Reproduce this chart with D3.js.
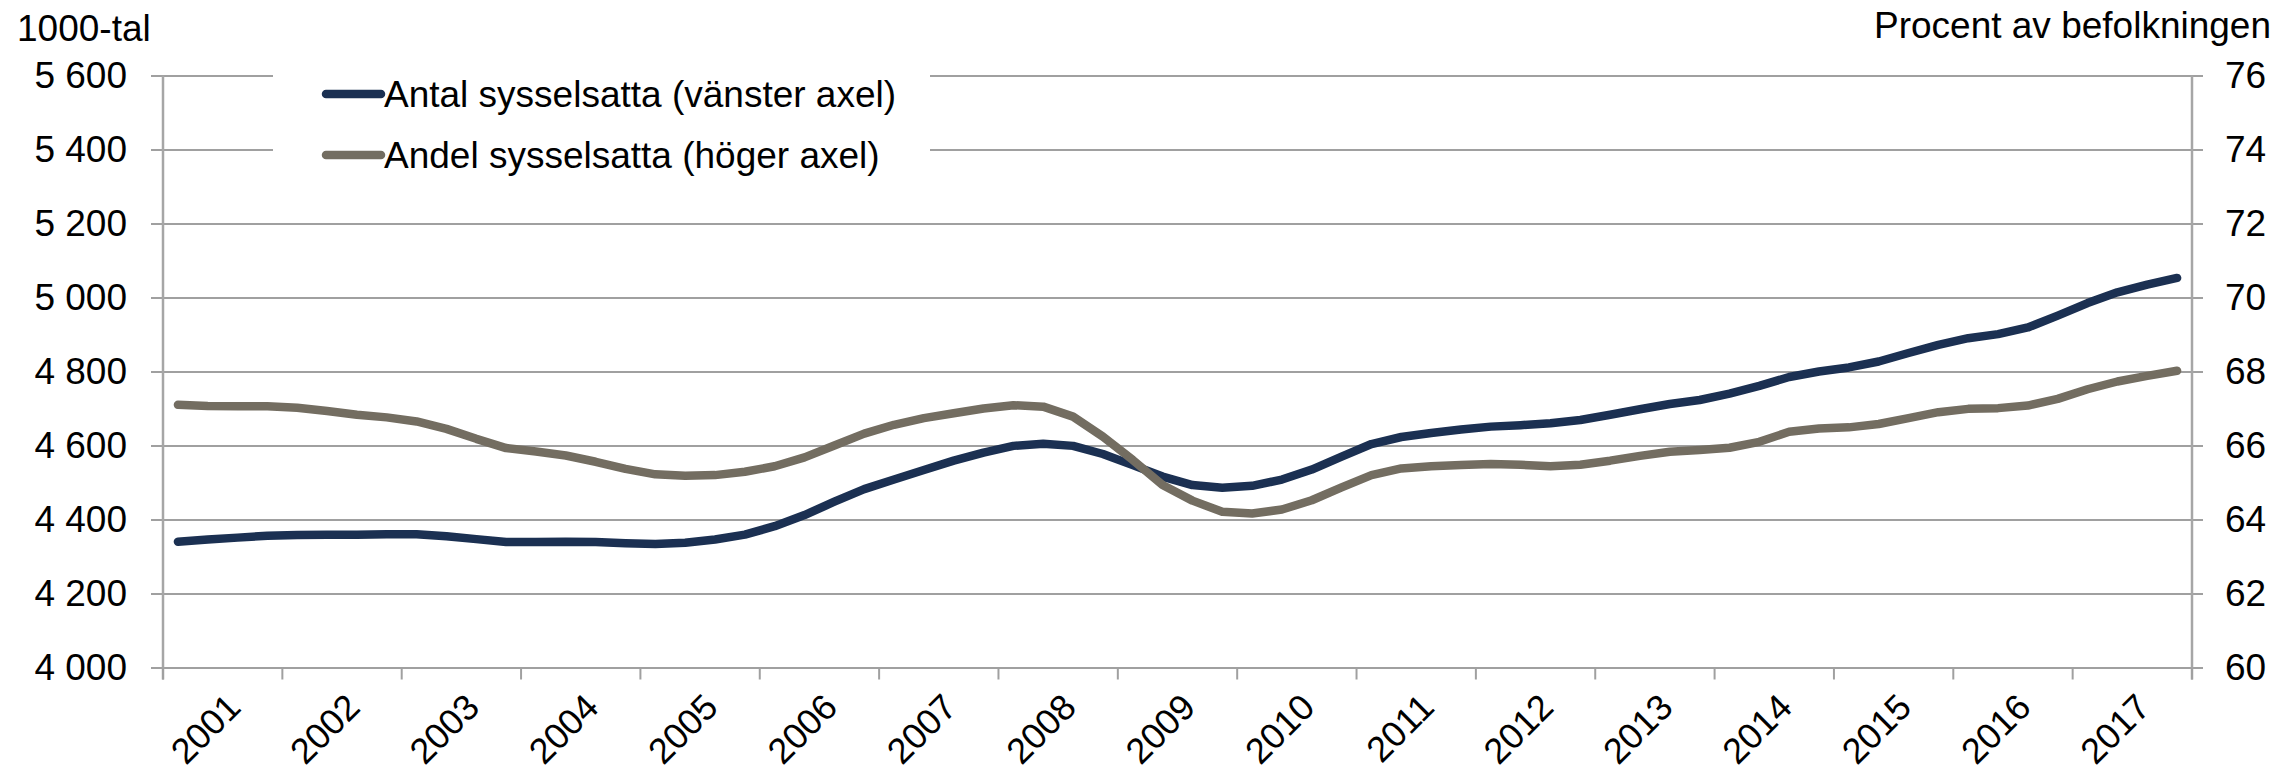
<!DOCTYPE html>
<html>
<head>
<meta charset="utf-8">
<script src="https://cdn.jsdelivr.net/npm/d3@7"></script>
<style>
    body { margin: 0; background: #fff; }
    svg { display: block; font-family: "Liberation Sans", Arial, sans-serif; }
</style>
</head>
<body>
<svg id="chart" width="2280" height="773"></svg>
<script>
// kvartal 2001K1 - 2017K4
var years = d3.range(2001, 2018);
var quarters = [];
years.forEach(function (y) {
    for (var q = 1; q <= 4; q++) quarters.push(y + "K" + q);
});

// Antal sysselsatta, 1000-tal (vänster axel)
var antal = [
    4340, 4346, 4351, 4356, 4358, 4359, 4359, 4360, 4360, 4355, 4347, 4339, 4339, 4340, 4339, 4336,
    4334, 4337, 4346, 4359, 4382, 4412, 4448, 4482, 4508, 4534, 4559, 4581, 4599, 4605, 4599, 4577,
    4547, 4516, 4493, 4486, 4491, 4508, 4535, 4570, 4604, 4623, 4634, 4643, 4651, 4655, 4660, 4669,
    4683, 4698, 4712, 4723, 4740, 4761, 4785, 4800, 4811, 4827, 4850, 4872, 4890, 4901, 4919, 4951,
    4985, 5014, 5035, 5053
];

// Andel sysselsatta, procent av befolkningen (höger axel)
var andel = [
    67.10, 67.07, 67.06, 67.06, 67.02, 66.93, 66.83, 66.76, 66.65, 66.45, 66.18, 65.93, 65.84, 65.73, 65.56, 65.37,
    65.22, 65.18, 65.20, 65.29, 65.44, 65.68, 66.00, 66.32, 66.56, 66.74, 66.87, 67.00, 67.09, 67.05, 66.78, 66.24,
    65.61, 64.93, 64.51, 64.21, 64.16, 64.27, 64.52, 64.87, 65.20, 65.38, 65.44, 65.47, 65.50, 65.48, 65.44, 65.48,
    65.59, 65.72, 65.83, 65.88, 65.94, 66.10, 66.37, 66.46, 66.49, 66.58, 66.74, 66.90, 66.99, 67.01, 67.08, 67.26,
    67.52, 67.73, 67.88, 68.02
];

var leftTicks = [4000, 4200, 4400, 4600, 4800, 5000, 5200, 5400, 5600];
var rightTicks = [60, 62, 64, 66, 68, 70, 72, 74, 76];
var seriesNames = ["Antal sysselsatta (vänster axel)", "Andel sysselsatta (höger axel)"];
var colors = ["#1b3052", "#736d61"];

var svg = d3.select("svg#chart");
var margin = { top: 75.5, bottom: 105.5, left: 163, right: 88 };
var plotWidth = 2280 - margin.left - margin.right;
var plotHeight = 773 - margin.top - margin.bottom;

var plot = svg.append("g")
    .attr("transform", "translate(" + margin.left + "," + margin.top + ")");

var xQuarter = d3.scaleBand().domain(quarters).range([0, plotWidth]);
var xYear = d3.scaleBand().domain(years).range([0, plotWidth]);
var yLeft = d3.scaleLinear().domain([4000, 5600]).range([plotHeight, 0]);
var yRight = d3.scaleLinear().domain([60, 76]).range([plotHeight, 0]);

var fmt = d3.formatLocale({ decimal: ",", thousands: " ", grouping: [3], currency: ["", ""] }).format(",");

// gridlines + left ticks
var leftAxis = plot.append("g")
    .call(d3.axisLeft(yLeft).tickValues(leftTicks).tickFormat(fmt)
        .tickSizeInner(-(plotWidth + 11)).tickSizeOuter(0).tickPadding(36));
leftAxis.select(".domain").remove();
leftAxis.selectAll(".tick line").attr("x1", -12).attr("stroke", "#a0a0a0").attr("stroke-width", 2);
leftAxis.selectAll(".tick text").attr("x", -36).style("font-size", "37px").attr("fill", "#000");

// right axis labels
var rightAxis = plot.append("g")
    .attr("transform", "translate(" + plotWidth + ",0)")
    .call(d3.axisRight(yRight).tickValues(rightTicks).tickSize(0).tickPadding(33));
rightAxis.select(".domain").remove();
rightAxis.selectAll(".tick text").style("font-size", "37px").attr("fill", "#000");

// vertical axis lines
plot.append("line").attr("x1", 0).attr("x2", 0).attr("y1", 0).attr("y2", plotHeight + 12)
    .attr("stroke", "#a6a6a6").attr("stroke-width", 2.5);
plot.append("line").attr("x1", plotWidth).attr("x2", plotWidth).attr("y1", 0).attr("y2", plotHeight + 12)
    .attr("stroke", "#a6a6a6").attr("stroke-width", 2.5);

// x ticks between years
var bounds = years.map(function (y) { return xYear(y); }).concat([plotWidth]);
plot.append("g").selectAll("line").data(bounds).enter().append("line")
    .attr("x1", d => d).attr("x2", d => d)
    .attr("y1", plotHeight).attr("y2", plotHeight + 12)
    .attr("stroke", "#a0a0a0").attr("stroke-width", 2);

// x labels, rotated
plot.append("g").selectAll("text").data(years).enter().append("text")
    .attr("transform", function (d) {
        return "translate(" + (xYear(d) + xYear.bandwidth() / 2 + 11) + "," + (plotHeight + 33) + ") rotate(-45)";
    })
    .attr("text-anchor", "end")
    .attr("dy", "0.35em")
    .style("font-size", "36px")
    .text(d => d);

// lines
var lineLeft = d3.line()
    .x((d, i) => xQuarter(quarters[i]) + xQuarter.bandwidth() / 2)
    .y(d => yLeft(d));
var lineRight = d3.line()
    .x((d, i) => xQuarter(quarters[i]) + xQuarter.bandwidth() / 2)
    .y(d => yRight(d));

plot.append("path").datum(antal)
    .attr("d", lineLeft)
    .attr("fill", "none").attr("stroke", colors[0]).attr("stroke-width", 8.5)
    .attr("stroke-linejoin", "round").attr("stroke-linecap", "round");
plot.append("path").datum(andel)
    .attr("d", lineRight)
    .attr("fill", "none").attr("stroke", colors[1]).attr("stroke-width", 8.5)
    .attr("stroke-linejoin", "round").attr("stroke-linecap", "round");

// legend
var legend = svg.append("g");
legend.append("rect").attr("x", 273).attr("y", 42).attr("width", 657).attr("height", 140).attr("fill", "#fff");
var items = legend.selectAll("g.item").data(seriesNames).enter().append("g")
    .attr("class", "item")
    .attr("transform", (d, i) => "translate(0," + (94 + i * 61) + ")");
items.append("line").attr("x1", 326).attr("x2", 381).attr("y1", 0).attr("y2", 0)
    .attr("stroke", (d, i) => colors[i]).attr("stroke-width", 8.5).attr("stroke-linecap", "round");
items.append("text").attr("x", 384).attr("dy", "0.35em").style("font-size", "37px").text(d => d);

// axis titles
svg.append("text").attr("x", 17).attr("y", 41).style("font-size", "37px").text("1000-tal");
svg.append("text").attr("x", 2271).attr("y", 38).attr("text-anchor", "end")
    .style("font-size", "37px").text("Procent av befolkningen");
</script>
</body>
</html>
